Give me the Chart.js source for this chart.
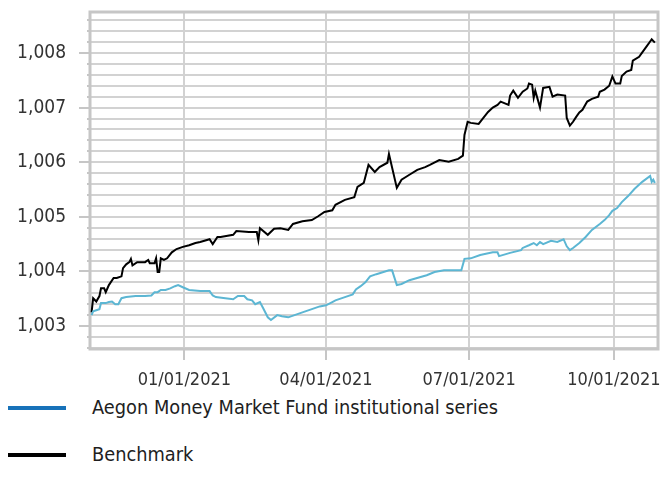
<!DOCTYPE html>
<html>
<head>
<meta charset="utf-8">
<script src="https://cdn.jsdelivr.net/npm/chart.js@4.4.1/dist/chart.umd.min.js"></script>
<style>
  body { margin: 0; background: #fff; }
  #wrap { position: relative; width: 661px; height: 489px; }
  #box { position: absolute; left: 0; top: 0; width: 661px; height: 392px; }
  .row { position: absolute; left: 0; height: 24px; font: 19.8px "DejaVu Sans Condensed", "DejaVu Sans", sans-serif; color: #1e1e1e; }
  .row span.line { position: absolute; left: 8px; top: 10px; width: 58px; height: 4px; }
  .row span.txt { position: absolute; left: 92px; top: 0; line-height: 24px; white-space: nowrap; }
</style>
</head>
<body>
<div id="wrap">
  <div id="box"><canvas id="chart"></canvas></div>
  <div class="row" style="top:396px"><span class="line" style="background:#1772b9"></span><span class="txt">Aegon Money Market Fund institutional series</span></div>
  <div class="row" style="top:443px"><span class="line" style="background:#000"></span><span class="txt">Benchmark</span></div>
</div>
<script>
const seriesNames = ['Aegon Money Market Fund institutional series', 'Benchmark']

const fundDates = ['2020-11-03','2020-11-04','2020-11-06','2020-11-08','2020-11-09','2020-11-12','2020-11-14','2020-11-16','2020-11-18','2020-11-20',
  '2020-11-22','2020-11-25','2020-12-01','2020-12-07','2020-12-11','2020-12-13','2020-12-15','2020-12-17','2020-12-20','2020-12-23',
  '2020-12-26','2020-12-28','2020-12-31','2021-01-04','2021-01-11','2021-01-17','2021-01-19','2021-01-21','2021-01-27','2021-02-01',
  '2021-02-04','2021-02-08','2021-02-10','2021-02-13','2021-02-15','2021-02-18','2021-02-20','2021-02-23','2021-02-25','2021-03-01',
  '2021-03-04','2021-03-08','2021-03-12','2021-03-17','2021-03-23','2021-03-28','2021-04-01','2021-04-05','2021-04-07','2021-04-13',
  '2021-04-18','2021-04-20','2021-04-23','2021-04-26','2021-04-29','2021-05-03','2021-05-11','2021-05-13','2021-05-16','2021-05-19',
  '2021-05-24','2021-05-30','2021-06-04','2021-06-09','2021-06-15','2021-06-20','2021-06-26','2021-06-28','2021-07-02','2021-07-08',
  '2021-07-16','2021-07-19','2021-07-20','2021-07-27','2021-08-03','2021-08-04','2021-08-08','2021-08-11','2021-08-13','2021-08-15',
  '2021-08-17','2021-08-22','2021-08-26','2021-08-30','2021-09-01','2021-09-03','2021-09-05','2021-09-09','2021-09-13','2021-09-17',
  '2021-09-22','2021-09-25','2021-09-28','2021-09-30','2021-10-03','2021-10-06','2021-10-10','2021-10-14','2021-10-19','2021-10-24',
  '2021-10-25','2021-10-26','2021-10-27']
const fundValues = [1.00320,1.00327,1.00329,1.00331,1.00342,1.00342,1.00344,1.00345,1.00340,1.00340,
  1.00351,1.00353,1.00355,1.00355,1.00356,1.00362,1.00362,1.00366,1.00366,1.00369,
  1.00373,1.00375,1.00371,1.00366,1.00364,1.00364,1.00356,1.00353,1.00351,1.00349,
  1.00355,1.00355,1.00349,1.00347,1.00340,1.00344,1.00333,1.00316,1.00311,1.00320,
  1.00318,1.00316,1.00320,1.00325,1.00331,1.00336,1.00338,1.00344,1.00347,1.00353,
  1.00358,1.00367,1.00373,1.00380,1.00391,1.00395,1.00402,1.00402,1.00375,1.00377,
  1.00384,1.00389,1.00393,1.00399,1.00402,1.00402,1.00402,1.00423,1.00424,1.00430,
  1.00435,1.00435,1.00428,1.00434,1.00439,1.00443,1.00448,1.00452,1.00448,1.00454,
  1.00450,1.00456,1.00454,1.00459,1.00446,1.00439,1.00443,1.00452,1.00463,1.00476,
  1.00487,1.00494,1.00503,1.00511,1.00516,1.00527,1.00538,1.00551,1.00564,1.00575,
  1.00564,1.00568,1.00562]

const benchDates = ['2020-11-03','2020-11-04','2020-11-06','2020-11-08','2020-11-09','2020-11-11','2020-11-12','2020-11-14','2020-11-17','2020-11-19',
  '2020-11-22','2020-11-23','2020-11-25','2020-11-27','2020-11-28','2020-11-29','2020-12-02','2020-12-07','2020-12-09','2020-12-10',
  '2020-12-13','2020-12-14','2020-12-15','2020-12-16','2020-12-17','2020-12-19','2020-12-21','2020-12-24','2020-12-27','2020-12-31',
  '2021-01-04','2021-01-08','2021-01-11','2021-01-17','2021-01-19','2021-01-22','2021-01-24','2021-02-01','2021-02-03','2021-02-11',
  '2021-02-16','2021-02-17','2021-02-18','2021-02-23','2021-02-27','2021-03-03','2021-03-08','2021-03-11','2021-03-17','2021-03-23',
  '2021-03-27','2021-03-31','2021-04-05','2021-04-07','2021-04-13','2021-04-19','2021-04-21','2021-04-25','2021-04-28','2021-05-02',
  '2021-05-05','2021-05-10','2021-05-11','2021-05-16','2021-05-19','2021-05-24','2021-05-29','2021-06-03','2021-06-06','2021-06-12',
  '2021-06-18','2021-06-24','2021-06-27','2021-06-28','2021-06-30','2021-07-02','2021-07-07','2021-07-10','2021-07-13','2021-07-16',
  '2021-07-19','2021-07-21','2021-07-26','2021-07-27','2021-07-29','2021-08-01','2021-08-04','2021-08-07','2021-08-08','2021-08-10',
  '2021-08-11','2021-08-12','2021-08-15','2021-08-17','2021-08-21','2021-08-23','2021-08-26','2021-08-31','2021-09-01','2021-09-03',
  '2021-09-05','2021-09-07','2021-09-09','2021-09-11','2021-09-14','2021-09-17','2021-09-21','2021-09-22','2021-09-25','2021-09-28',
  '2021-09-30','2021-10-02','2021-10-05','2021-10-06','2021-10-09','2021-10-12','2021-10-13','2021-10-17','2021-10-19','2021-10-22',
  '2021-10-24','2021-10-25','2021-10-27']
const benchValues = [1.00325,1.00351,1.00345,1.00355,1.00369,1.00369,1.00362,1.00375,1.00388,1.00388,
  1.00391,1.00406,1.00413,1.00417,1.00423,1.00411,1.00417,1.00417,1.00421,1.00415,
  1.00415,1.00424,1.00399,1.00399,1.00424,1.00421,1.00424,1.00435,1.00441,1.00445,
  1.00448,1.00452,1.00454,1.00459,1.00450,1.00463,1.00463,1.00467,1.00474,1.00472,
  1.00472,1.00457,1.00479,1.00467,1.00478,1.00479,1.00476,1.00487,1.00492,1.00494,
  1.00501,1.00509,1.00512,1.00522,1.00531,1.00536,1.00555,1.00562,1.00595,1.00582,
  1.00591,1.00599,1.00615,1.00553,1.00568,1.00577,1.00586,1.00591,1.00595,1.00604,
  1.00601,1.00606,1.00612,1.00650,1.00674,1.00672,1.00670,1.00681,1.00692,1.00700,
  1.00705,1.00711,1.00705,1.00722,1.00731,1.00718,1.00729,1.00735,1.00744,1.00742,
  1.00718,1.00731,1.00700,1.00736,1.00738,1.00720,1.00724,1.00722,1.00681,1.00667,
  1.00674,1.00683,1.00691,1.00696,1.00711,1.00716,1.00720,1.00729,1.00733,1.00740,
  1.00757,1.00744,1.00744,1.00758,1.00766,1.00769,1.00786,1.00793,1.00801,1.00813,
  1.00821,1.00825,1.00819]

const xTickDates = ['2021-01-01', '2021-04-01', '2021-07-01', '2021-10-01']
const xStart = '2020-11-02'
const xEnd = '2021-10-29'
const yMin = 1.00258
const yMax = 1.00875
const yGridStep = 0.0002
const yLabelStep = 0.001

const origin = Date.UTC(2021, 0, 1)
function dayNumber(iso) {
    const [y, m, d] = iso.split('-').map(Number)
    return Math.round((Date.UTC(y, m - 1, d) - origin) / 86400000)
}
function formatDay(n) {
    const dt = new Date(origin + n * 86400000)
    const mm = String(dt.getUTCMonth() + 1).padStart(2, '0')
    const dd = String(dt.getUTCDate()).padStart(2, '0')
    return `${mm}/${dd}/${dt.getUTCFullYear()}`
}
function toPoints(dates, values) {
    return dates.map((d, i) => ({x: dayNumber(d), y: values[i]}))
}
function isMajor(v) {
    const r = v / yLabelStep
    return Math.abs(r - Math.round(r)) < 1e-6
}

const gridColor = '#d2d2d2'
const frameColor = '#c6c6c6'

// frame around the plot and the small tick marks outside it
const framePlugin = {
    id: 'frame',
    beforeDatasetsDraw(chart) {
        const {ctx, chartArea: a, scales} = chart
        ctx.save()
        ctx.strokeStyle = frameColor
        ctx.lineWidth = 3
        ctx.strokeRect(a.left, a.top, a.right - a.left, a.bottom - a.top)
        ctx.lineWidth = 2
        ctx.beginPath()
        scales.y.ticks.forEach(t => {
            const py = Math.round(scales.y.getPixelForValue(t.value))
            const len = isMajor(t.value) ? 11 : 3
            ctx.moveTo(a.left - len, py)
            ctx.lineTo(a.left, py)
        })
        scales.x.ticks.forEach(t => {
            const px = Math.round(scales.x.getPixelForValue(t.value))
            ctx.moveTo(px, a.bottom)
            ctx.lineTo(px, a.bottom + 11)
        })
        ctx.stroke()
        ctx.restore()
    }
}

Chart.defaults.font.family = '"DejaVu Sans Condensed", "DejaVu Sans", sans-serif'
Chart.defaults.color = '#333'

new Chart('chart', {
    type: 'line',
    data: {
        datasets: [
            {
                label: seriesNames[0],
                data: toPoints(fundDates, fundValues),
                borderColor: '#5cb6d3',
                borderWidth: 2,
                pointRadius: 0,
                tension: 0
            },
            {
                label: seriesNames[1],
                data: toPoints(benchDates, benchValues),
                borderColor: '#000000',
                borderWidth: 2,
                pointRadius: 0,
                tension: 0
            }
        ]
    },
    options: {
        responsive: true,
        maintainAspectRatio: false,
        animation: false,
        layout: {padding: {top: 12, right: 3, left: 0, bottom: 0}},
        plugins: {legend: {display: false}, tooltip: {enabled: false}},
        scales: {
            x: {
                type: 'linear',
                min: dayNumber(xStart),
                max: dayNumber(xEnd),
                afterBuildTicks: scale => {
                    scale.ticks = xTickDates.map(d => ({value: dayNumber(d)}))
                },
                afterFit: scale => {
                    scale.height = 43
                    scale.paddingLeft = 0
                    scale.paddingRight = 0
                },
                grid: {color: gridColor, lineWidth: 2, drawTicks: false},
                border: {display: false},
                ticks: {
                    font: {size: 18},
                    padding: 21,
                    maxRotation: 0,
                    autoSkip: false,
                    callback: v => formatDay(v)
                }
            },
            y: {
                min: yMin,
                max: yMax,
                afterBuildTicks: scale => {
                    const ticks = []
                    for (let k = Math.ceil(yMin / yGridStep); k <= Math.floor(yMax / yGridStep); k++) {
                        ticks.push({value: k * yGridStep})
                    }
                    scale.ticks = ticks
                },
                afterFit: scale => {
                    scale.width = 90
                    scale.paddingTop = 0
                    scale.paddingBottom = 0
                },
                grid: {color: gridColor, lineWidth: 2, drawTicks: false},
                border: {display: false},
                ticks: {
                    font: {size: 19},
                    padding: 24,
                    autoSkip: false,
                    callback: v => isMajor(v) ? v.toFixed(3).replace('.', ',') : ''
                }
            }
        }
    },
    plugins: [framePlugin]
})
</script>
</body>
</html>
